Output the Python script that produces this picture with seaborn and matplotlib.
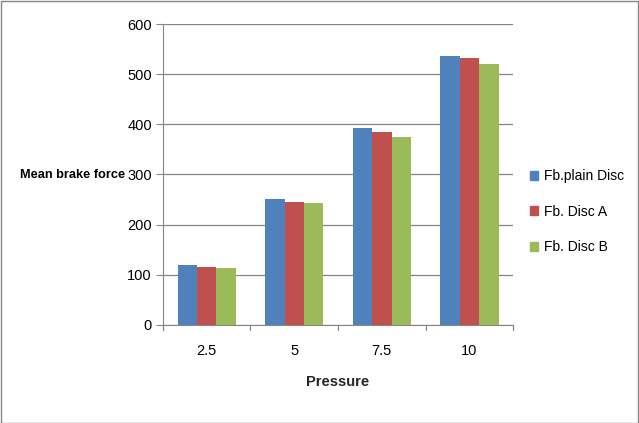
import pandas as pd
import matplotlib.pyplot as plt
import seaborn as sns

pressure = ["2.5", "5", "7.5", "10"]
series = ["Fb.plain Disc", "Fb. Disc A", "Fb. Disc B"]
plain_disc = [120, 251, 393, 537]
disc_a = [116, 245, 385, 533]
disc_b = [114, 243, 375, 520]
colors = ["#4F81BD", "#C0504D", "#9BBB59"]

rows = []
for name, vals in zip(series, [plain_disc, disc_a, disc_b]):
    for p, v in zip(pressure, vals):
        rows.append({"Pressure": p, "force": v, "series": name})
df = pd.DataFrame(rows)

sns.set_style("white")
plt.rcParams["font.family"] = ["Liberation Sans", "DejaVu Sans"]
plt.rcParams["text.color"] = "black"
plt.rcParams["xtick.color"] = "black"
plt.rcParams["ytick.color"] = "black"

fig = plt.figure(figsize=(6.39, 4.23), dpi=100)
ax = fig.add_axes([0.255, 0.232, 0.548, 0.711])
sns.barplot(data=df, x="Pressure", y="force", hue="series", order=pressure,
            hue_order=series, palette=colors, width=0.667, saturation=1,
            linewidth=0, ax=ax, legend=False)

ax.set_ylim(0, 600)
ax.set_yticks(range(0, 601, 100))
ax.yaxis.grid(True, color="#868686", linewidth=0.9)
ax.set_axisbelow(True)
ax.set_xlim(-0.5, 3.5)
for s in ["top", "right"]:
    ax.spines[s].set_visible(False)
ax.spines["left"].set_color("#868686")
ax.spines["bottom"].set_color("#868686")
ax.tick_params(axis="y", length=5, color="#868686", labelsize=10.5, pad=3, left=True)
ax.tick_params(axis="x", length=0, labelsize=10.5, pad=14)
for xb in [-0.5, 0.5, 1.5, 2.5, 3.5]:
    ax.plot([xb, xb], [0, -0.016], transform=ax.get_xaxis_transform(),
            color="#868686", linewidth=0.9, clip_on=False)

ax.set_xlabel("Pressure", fontsize=10.5, fontweight="bold", labelpad=12)
ax.set_ylabel("")
fig.text(0.032, 0.586, "Mean brake force", fontsize=9.2, fontweight="bold",
         va="center", ha="left")

handles = [plt.Rectangle((0, 0), 1, 1, color=c) for c in colors]
fig.legend(handles, series, loc="upper left", bbox_to_anchor=(0.81, 0.63),
           frameon=False, fontsize=10, handlelength=0.6, handleheight=0.6,
           handletextpad=0.4, labelspacing=1.55)

fig.patches.append(plt.Rectangle((0.001, 0.001), 0.997, 0.996, transform=fig.transFigure,
                                 fill=False, edgecolor="#868686", linewidth=1))

fig.savefig("out.png", dpi=100)
